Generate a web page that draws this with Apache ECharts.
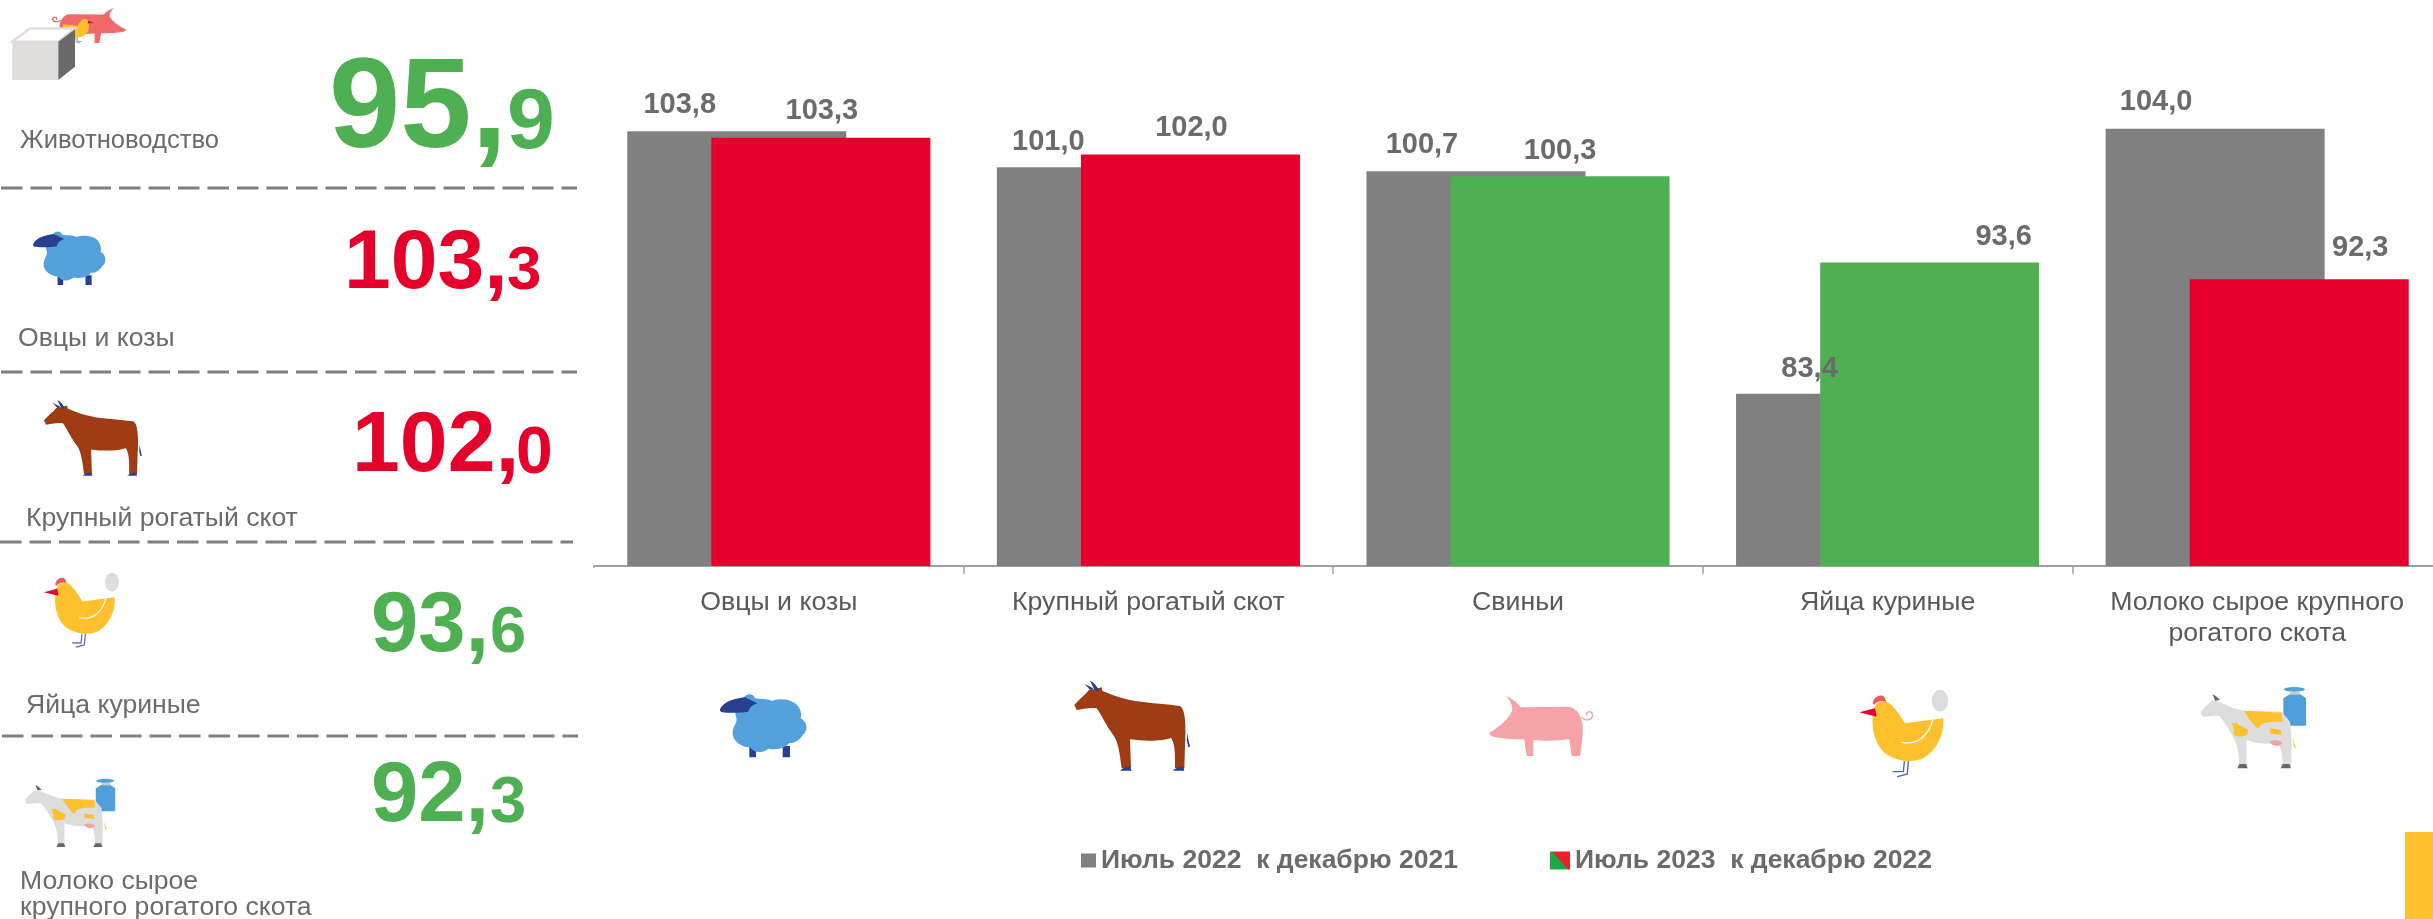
<!DOCTYPE html>
<html><head><meta charset="utf-8">
<style>html,body{margin:0;padding:0;background:#fff}#c{width:2433px;height:919px}</style>
<script src="https://cdn.jsdelivr.net/npm/echarts@6/dist/echarts.min.js"></script>
</head><body><div id="c"></div>
<script>
// ---------- data ----------
const categories = ['Овцы и козы','Крупный рогатый скот','Свиньи','Яйца куриные','Молоко сырое крупного\nрогатого скота'];
const series2022 = [103.8,101.0,100.7,83.4,104.0];
const series2023 = [103.3,102.0,100.3,93.6,92.3];
const name2022 = 'Июль 2022  к декабрю 2021';
const name2023 = 'Июль 2023  к декабрю 2022';
const kpiNames = ['Животноводство','Овцы и козы','Крупный рогатый скот','Яйца куриные','Молоко сырое\nкрупного рогатого скота'];
const kpiWhole = ['95,','103,','102,','93,','92,'];
const kpiFrac  = ['9','3','0','6','3'];

// ---------- styles / layout ----------
const GREY='#808080', RED='#E4002B', GREEN='#4FAF53', YEL='#FFC02E', TXT='#6B6B6B', BLUE='#54A0DB', NAVY='#27408F';
const KPI_COL=[GREEN,RED,RED,GREEN,GREEN];
const colors2023=[RED,RED,GREEN,GREEN,RED];
const off2022=[[-57,-7],[-58,-6],[-54,-7],[-36,-5],[-59,-7]];
const off2023=[[1,-7],[1,-7],[0,-6],[74,-6],[61,-12]];
const kpiLayout=[ // whole: x, yc, size; frac: x, yc, size
 [329,112,128, 507,124,86],
 [344,265,84, 507,272,62],
 [352,447,86, 516,455,66],
 [371,628,85, 490,634,65],
 [371,798,85, 490,804,65]];
const nameLayout=[[20,140.5,25.6],[18,338.5,26.6],[26,518.5,26.6],[26,705.5,26.6],[20,895,26.6]];
const dashes=[[1,577,188],[1,577,372],[0,573,542],[2,578,736]];

// ---------- icons: path pieces in a local 3x drawing space ----------
const ICON={
 sheep:[
  {d:'M148 225h20v37h-20z M248 228h22v34h-22z',fill:NAVY},
  {d:'M108 140C100 110 125 100 130 85C140 68 160 70 165 85C180 88 200 85 215 93C235 85 260 88 272 93C295 100 308 125 302 145C322 155 326 182 308 196C298 210 285 222 268 218C255 238 220 240 205 236C190 250 160 250 150 232C125 232 95 212 98 185C100 165 115 155 108 140Z',fill:BLUE},
  {d:'M60 118C70 95 105 85 135 82L172 100C155 105 150 112 145 125C125 128 85 130 68 127C60 126 60 122 60 118Z',fill:NAVY}],
 cow:[
  {d:'M366 190L375 230L370 232L366 215Z',fill:NAVY},
  {d:'M28 105C40 90 60 75 72 60L85 58L110 52L112 62C140 75 170 85 210 93C260 100 310 103 345 108C355 115 358 130 360 150C362 175 362 200 360 225L358 295L330 295C330 260 332 225 318 203C300 213 240 215 195 208L198 295L170 295C165 255 160 215 145 195C125 170 110 135 95 115C75 112 50 118 35 120Z',fill:'#A03C14'},
  {d:'M58 42L85 55L78 62Z M75 32C88 38 98 50 102 64L90 62C85 52 80 42 75 32Z',fill:NAVY},
  {d:'M165 302C172 295 180 290 195 290L200 302Z M323 302C330 295 340 290 355 290L358 302Z',fill:NAVY}],
 pig:[
  {d:'M28 158C50 145 80 125 95 95C100 85 95 65 78 48C95 55 115 70 122 82L270 80C290 85 305 110 308 135C310 165 305 195 300 228L275 228L268 178C230 183 190 183 160 180L160 228L140 228L133 178C100 178 60 175 40 170C33 168 28 163 28 158Z',fill:'#F5A3A6'},
  {d:'M305 112C320 128 340 115 337 103C333 90 318 95 320 105',stroke:'#F5A3A6',lineWidth:4}],
 pigRed:[
  {d:'M28 158C50 145 80 125 95 95C100 85 95 65 78 48C95 55 115 70 122 82L270 80C290 85 305 110 308 135C310 165 305 195 300 228L275 228L268 178C230 183 190 183 160 180L160 228L140 228L133 178C100 178 60 175 40 170C33 168 28 163 28 158Z',fill:'#F06A6A'},
  {d:'M305 112C320 128 340 115 337 103C333 90 318 95 320 105',stroke:'#F06A6A',lineWidth:6}],
 hen:[
  {d:'M163 245L160 275L130 275 M175 245L172 282L143 290',stroke:'#4C64A8',lineWidth:4},
  {d:'M68 105C70 75 85 60 110 65C130 75 150 105 165 130L280 115C282 160 265 205 225 232C190 252 135 245 100 215C75 190 65 150 68 105Z',fill:YEL},
  {d:'M68 70C70 55 85 42 100 48C105 52 108 60 108 65C95 60 80 65 72 75Z',fill:'#EE5A5A'},
  {d:'M28 97L75 85L80 110Z',fill:RED},
  {d:'M155 187C200 195 235 170 248 120',stroke:'#FFF',lineWidth:4},
  {d:'M245 62a25 33 0 1 0 50 0a25 33 0 1 0 -50 0Z',fill:'#DDDDDC'}],
 henSmall:[
  {d:'M163 245L160 275L130 275 M175 245L172 282L143 290',stroke:'#8FA0C8',lineWidth:8},
  {d:'M68 105C70 75 85 60 110 65C130 75 150 105 165 130L280 115C282 160 265 205 225 232C190 252 135 245 100 215C75 190 65 150 68 105Z',fill:YEL},
  {d:'M68 70C70 55 85 42 100 48C105 52 108 60 108 65C95 60 80 65 72 75Z',fill:'#EE5A5A'},
  {d:'M28 97L75 85L80 110Z',fill:RED}],
 dairy:[
  {d:'M280 55L300 42L330 42L348 55L348 137L280 137Z',fill:'#4F9FDB'},
  {d:'M300 36h30v8h-30z',fill:'#CCCCCC'},
  {d:'M281 28a32 7 0 1 0 64 0a32 7 0 1 0 -64 0Z',fill:'#4F9FDB'},
  {d:'M308 172L318 205L312 200Z',fill:YEL},
  {d:'M32 100C38 85 55 70 68 62L80 62C110 75 140 90 165 92L275 95L300 125L305 180L303 262L278 262C278 235 275 200 262 188C230 195 195 190 170 180L170 250L172 262L148 262C148 230 145 200 130 172C115 145 100 120 88 108C70 106 50 112 38 110Z',fill:'#DDDDDC'},
  {d:'M162 92L275 98L278 125C250 125 210 122 205 147C190 135 175 115 162 92Z M125 130L140 128C150 140 168 142 175 150L170 165C150 172 135 172 130 160C135 150 128 140 125 130Z M240 145L258 148L272 150L275 165L255 162L240 160Z',fill:YEL},
  {d:'M238 185C255 178 270 180 278 190C270 200 250 203 238 185Z',fill:'#F5A3A6'},
  {d:'M142 265L148 252L168 252L173 265Z M272 265L278 252L298 252L303 265Z M68 42L80 50L90 60L75 62Z',fill:'#666666'}],
 cube:[
  {d:'M37 125H175V240H37Z',fill:'#DEDDDB'},
  {d:'M37 125L90 85L225 85L175 125Z',fill:'#FFFFFF',stroke:'#DEDDDB',lineWidth:7},
  {d:'M175 125L225 88L225 200L175 240Z',fill:'#6A6A6A'}]
};
let shapeNo=0;
function icon(key,x,y,sx,sy){
  return {type:'group',x:x,y:y,scaleX:sx,scaleY:sy,silent:true,
    children:ICON[key].map(p=>{
      const t='ic'+(shapeNo++);
      echarts.graphic.registerShape(t,echarts.graphic.extendPath(p.d,{}));
      return {type:t,silent:true,style:{fill:p.fill||'none',stroke:p.stroke||null,lineWidth:p.lineWidth||0,lineCap:'round'}};
    })};
}
const T=1/3;
const icons=[
 icon('sheep',700,670,T,T), icon('cow',1065,670,T,T), icon('pig',1480,680,T,T), icon('hen',1850,680,T,T), icon('dairy',2190,680,T,T),
 icon('pigRed',132.6,-1.3,-0.237,0.194), icon('henSmall',97.4,11.8,-0.123,0.108), icon('cube',0,0,T,T),
 icon('sheep',16.3,210.8,0.279,0.283), icon('cow',36.1,391,0.282,0.281), icon('hen',36.1,564.5,0.281,0.285), icon('dairy',16,773,0.285,0.279)
];
const FF='"Liberation Sans",Arial,sans-serif';
const texts=[];
kpiWhole.forEach((w,i)=>{
  const L=kpiLayout[i], N=nameLayout[i];
  texts.push({type:'text',x:L[0],y:L[1],silent:true,style:{text:w,font:'bold '+L[2]+'px '+FF,fill:KPI_COL[i],align:'left',verticalAlign:'middle'}});
  texts.push({type:'text',x:L[3],y:L[4],silent:true,style:{text:kpiFrac[i],font:'bold '+L[5]+'px '+FF,fill:KPI_COL[i],align:'left',verticalAlign:'middle'}});
  texts.push({type:'text',x:N[0],y:N[1],silent:true,style:{text:kpiNames[i],font:N[2]+'px '+FF,lineHeight:26,fill:TXT,align:'left',verticalAlign:'middle'}});
});
const lines=dashes.map(d=>({type:'line',silent:true,shape:{x1:d[0],y1:d[2],x2:d[1],y2:d[2]},style:{stroke:'#7F7F7F',lineWidth:3,lineDash:[21.5,8]}}));
const corner={type:'rect',silent:true,shape:{x:2405,y:832,width:28,height:87},style:{fill:YEL}};
const tickMask={type:'rect',silent:true,z:100,shape:{x:590,y:568,width:8,height:10},style:{fill:'#FFFFFF'}};

const fmt=v=>v.toFixed(1).replace('.',',');
const labelBase={show:true,position:'top',distance:5,fontFamily:FF,fontSize:29,fontWeight:'bold',color:TXT,formatter:p=>fmt(p.value)};
const legendBase={orient:'horizontal',icon:'rect',selectedMode:false,textStyle:{fontFamily:FF,fontSize:26.5,fontWeight:'bold',color:TXT},padding:0};
const split2023=new echarts.graphic.LinearGradient(0,1,1,0,[{offset:0,color:'#1FA84A'},{offset:0.5,color:'#1FA84A'},{offset:0.5,color:'#E8222B'},{offset:1,color:'#E8222B'}]);

const chart=echarts.init(document.getElementById('c'),null,{renderer:'canvas'});
chart.setOption({
  animation:false,backgroundColor:'#fff',
  grid:{left:594,top:51.6,width:1848,height:514.4,containLabel:false,outerBoundsMode:'none'},
  legend:[
    Object.assign({},legendBase,{left:1081,top:847,itemWidth:15,itemHeight:14,data:[{name:name2022,itemStyle:{color:GREY}}]}),
    Object.assign({},legendBase,{left:1550,top:847,itemWidth:20,itemHeight:18,data:[{name:name2023,itemStyle:{color:split2023}}]})
  ],
  xAxis:{type:'category',data:categories,
    axisLine:{show:true,lineStyle:{color:'#A0A0A0',width:2}},
    axisTick:{show:true,length:8,lineStyle:{color:'#A0A0A0',width:1.5}},
    axisLabel:{interval:0,margin:21,fontFamily:FF,fontSize:26.7,lineHeight:31,color:'#595959'}},
  yAxis:{type:'value',min:70,max:110,interval:10,show:false,splitLine:{show:false}},
  series:[
    {name:name2022,type:'bar',barWidth:219,barGap:'-61.6%',itemStyle:{color:GREY},
     data:series2022.map((v,i)=>({value:v,label:Object.assign({},labelBase,{offset:off2022[i]})})),label:labelBase},
    {name:name2023,type:'bar',barWidth:219,itemStyle:{color:RED},
     data:series2023.map((v,i)=>({value:v,itemStyle:{color:colors2023[i]},label:Object.assign({},labelBase,{offset:off2023[i]})})),label:labelBase}
  ],
  graphic:{elements:[].concat(lines,icons,texts,[corner,tickMask])}
});
</script></body></html>
